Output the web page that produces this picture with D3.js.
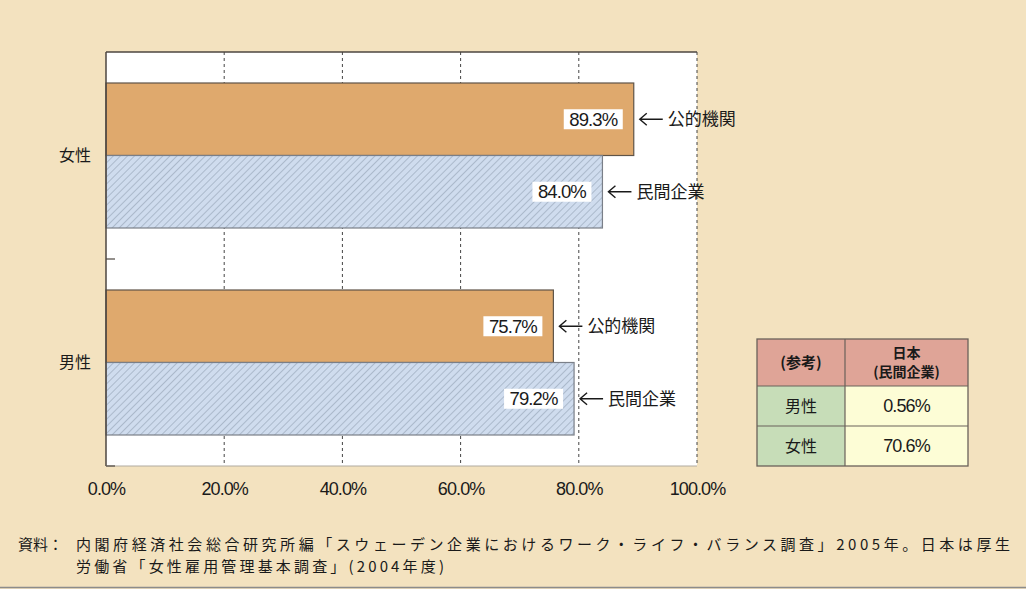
<!DOCTYPE html>
<html lang="ja">
<head>
<meta charset="utf-8">
<title>公的機関と民間企業の育児休業取得率</title>
<script src="https://d3js.org/d3.v7.min.js"></script>
<style>
  body { margin: 0; background: #f3e2bf; }
  svg { display: block; }
</style>
</head>
<body>
<svg width="1026" height="589"></svg>
<script>
// データ
var categories = ["女性", "男性"];
var series = ["公的機関", "民間企業"];
var publicValues = [89.3, 75.7];
var privateValues = [84.0, 79.2];
var xTicks = [0, 20, 40, 60, 80, 100];
var refRows = ["男性", "女性"];
var refValues = ["0.56%", "70.6%"];

var svg = d3.select("svg");
var width = +svg.attr("width");
var height = +svg.attr("height");
var marge = {top: 52, left: 106, right: 329, bottom: 123};
var innerW = width - marge.left - marge.right;
var innerH = height - marge.top - marge.bottom;

svg.append("rect").attr("width", width).attr("height", height).attr("fill", "#f3e2bf");
svg.append("line").attr("x1", 0).attr("x2", width).attr("y1", 587.5).attr("y2", 587.5)
    .attr("stroke", "#8c8c8c").attr("stroke-width", 1.5);

// 斜線パターン
var defs = svg.append("defs");
var pat = defs.append("pattern").attr("id", "hatch").attr("patternUnits", "userSpaceOnUse")
    .attr("width", 5).attr("height", 5).attr("patternTransform", "rotate(45)");
pat.append("rect").attr("width", 5).attr("height", 5).attr("fill", "#cfdcee");
pat.append("line").attr("x1", 0).attr("y1", 0).attr("x2", 0).attr("y2", 5)
    .attr("stroke", "#8d9cae").attr("stroke-width", 1.1);

var g = svg.append("g").attr("transform", "translate(" + marge.left + "," + marge.top + ")");

var xScale = d3.scaleLinear().domain([0, 100]).range([0, innerW]);
var yScale = d3.scaleBand().domain(categories).range([0, innerH]).paddingInner(0).paddingOuter(0);
var subScale = d3.scaleBand().domain(series).range([31, yScale.bandwidth() - 31]);

g.append("rect").attr("width", innerW).attr("height", innerH).attr("fill", "#ffffff");

// グリッド線
g.selectAll(".grid").data(xTicks.slice(1)).enter().append("line")
    .attr("x1", function(d){ return xScale(d); })
    .attr("x2", function(d){ return xScale(d); })
    .attr("y1", 0).attr("y2", innerH)
    .attr("stroke", "#444").attr("stroke-width", 1).attr("stroke-dasharray", "3,3");

var rows = [];
categories.forEach(function(c, i){
    rows.push({cat: c, s: series[0], v: publicValues[i]});
    rows.push({cat: c, s: series[1], v: privateValues[i]});
});

var gs = g.selectAll(".bar").data(rows).enter().append("g")
    .attr("transform", function(d){ return "translate(0," + (yScale(d.cat) + subScale(d.s)) + ")"; });

var bh = subScale.bandwidth();
gs.append("rect")
    .attr("x", 0).attr("y", 0)
    .attr("width", function(d){ return xScale(d.v); })
    .attr("height", bh)
    .attr("fill", function(d){ return d.s === series[0] ? "#dfa96d" : "url(#hatch)"; })
    .attr("stroke", function(d){ return d.s === series[0] ? "#5f5448" : "#7a7f88"; })
    .attr("stroke-width", 1.2);

// 数値ラベル
gs.append("rect")
    .attr("x", function(d){ return xScale(d.v) - 70; })
    .attr("y", bh / 2 - 10)
    .attr("width", 59).attr("height", 20)
    .attr("fill", "#ffffff");
gs.append("text")
    .attr("x", function(d){ return xScale(d.v) - 40.5; })
    .attr("y", bh / 2)
    .attr("dy", "0.36em")
    .attr("text-anchor", "middle")
    .attr("font-family", "'Liberation Sans', Arial, sans-serif")
    .attr("font-size", 18.5).attr("letter-spacing", -0.9)
    .attr("fill", "#1a1a1a")
    .text(function(d){ return d.v.toFixed(1) + "%"; });

// 矢印と系列名
gs.append("path")
    .attr("d", function(d){
        var x0 = xScale(d.v) + 6, x1 = x0 + 23, y = bh / 2;
        return "M" + x1 + "," + y + "H" + x0 + "M" + (x0 + 7) + "," + (y - 6) + "L" + x0 + "," + y + "L" + (x0 + 7) + "," + (y + 6);
    })
    .attr("fill", "none").attr("stroke", "#1a1a1a").attr("stroke-width", 1.4);
gs.append("text")
    .attr("x", function(d){ return xScale(d.v) + 34; })
    .attr("y", bh / 2)
    .attr("dy", "0.36em")
    .attr("font-family", "'Noto Sans CJK JP', sans-serif")
    .attr("font-size", 17)
    .attr("fill", "#1a1a1a")
    .text(function(d){ return d.s; });

// 枠線
g.append("line").attr("x1", 0).attr("x2", innerW).attr("y1", 0).attr("y2", 0)
    .attr("stroke", "#4d4640").attr("stroke-width", 1.5);
g.append("line").attr("x1", 0).attr("x2", 0).attr("y1", 0).attr("y2", innerH)
    .attr("stroke", "#4d4640").attr("stroke-width", 1.5);
g.append("line").attr("x1", 0).attr("x2", innerW).attr("y1", innerH).attr("y2", innerH)
    .attr("stroke", "#b0aaa0").attr("stroke-width", 1);
g.append("line").attr("x1", 0).attr("x2", 9).attr("y1", yScale.bandwidth()).attr("y2", yScale.bandwidth())
    .attr("stroke", "#4d4640").attr("stroke-width", 1.2);
g.append("line").attr("x1", 0).attr("x2", 9).attr("y1", innerH).attr("y2", innerH)
    .attr("stroke", "#4d4640").attr("stroke-width", 1.2);

// カテゴリ名
g.selectAll(".cat").data(categories).enter().append("text")
    .attr("x", -31)
    .attr("y", function(d){ return yScale(d) + subScale.range()[0] + (subScale.range()[1] - subScale.range()[0]) / 2; })
    .attr("dy", "0.36em")
    .attr("text-anchor", "middle")
    .attr("font-family", "'Noto Sans CJK JP', sans-serif")
    .attr("font-size", 16).attr("fill", "#1a1a1a")
    .text(function(d){ return d; });

// x軸
var xAxis = d3.axisBottom(xScale).tickValues(xTicks).tickSize(0).tickPadding(16)
    .tickFormat(function(d){ return d.toFixed(1) + "%"; });
var ax = g.append("g").attr("transform", "translate(0," + innerH + ")").call(xAxis);
ax.select(".domain").remove();
ax.selectAll("text")
    .attr("font-family", "'Liberation Sans', Arial, sans-serif")
    .attr("font-size", 18).attr("letter-spacing", -0.9).attr("fill", "#1a1a1a");

// 参考表
var tx = 757, ty = 339, col1 = 88, col2 = 123, hh = 47, rh = 40;
var tg = svg.append("g").attr("transform", "translate(" + tx + "," + ty + ")");
tg.append("rect").attr("width", col1 + col2).attr("height", hh).attr("fill", "#dfa497");
tg.selectAll(".lc").data(refRows).enter().append("rect")
    .attr("y", function(d, i){ return hh + i * rh; })
    .attr("width", col1).attr("height", rh).attr("fill", "#c7ddb8");
tg.selectAll(".rc").data(refValues).enter().append("rect")
    .attr("x", col1)
    .attr("y", function(d, i){ return hh + i * rh; })
    .attr("width", col2).attr("height", rh).attr("fill", "#fdfdd6");
var tb = "#6a625a";
tg.append("rect").attr("width", col1 + col2).attr("height", hh + rh * refRows.length)
    .attr("fill", "none").attr("stroke", tb).attr("stroke-width", 1.3);
tg.append("line").attr("x1", col1).attr("x2", col1).attr("y1", 0).attr("y2", hh + rh * refRows.length)
    .attr("stroke", tb).attr("stroke-width", 1.2);
[hh, hh + rh].forEach(function(y){
    tg.append("line").attr("x1", 0).attr("x2", col1 + col2).attr("y1", y).attr("y2", y)
        .attr("stroke", tb).attr("stroke-width", 1.2);
});
var cjk = "'Noto Sans CJK JP', sans-serif";
tg.append("text").attr("x", col1 / 2).attr("y", hh / 2).attr("dy", "0.36em")
    .attr("text-anchor", "middle").attr("font-family", cjk).attr("font-size", 15)
    .attr("font-weight", "bold").attr("fill", "#1a1a1a").text("(参考)");
tg.append("text").attr("x", col1 + col2 / 2).attr("y", 14).attr("dy", "0.36em")
    .attr("text-anchor", "middle").attr("font-family", cjk).attr("font-size", 14)
    .attr("font-weight", "bold").attr("fill", "#1a1a1a").text("日本");
tg.append("text").attr("x", col1 + col2 / 2).attr("y", 33).attr("dy", "0.36em")
    .attr("text-anchor", "middle").attr("font-family", cjk).attr("font-size", 14)
    .attr("font-weight", "bold").attr("fill", "#1a1a1a").text("(民間企業)");
tg.selectAll(".lt").data(refRows).enter().append("text")
    .attr("x", col1 / 2)
    .attr("y", function(d, i){ return hh + i * rh + rh / 2; })
    .attr("dy", "0.36em").attr("text-anchor", "middle")
    .attr("font-family", cjk).attr("font-size", 16).attr("fill", "#1a1a1a")
    .text(function(d){ return d; });
tg.selectAll(".rt").data(refValues).enter().append("text")
    .attr("x", col1 + col2 / 2)
    .attr("y", function(d, i){ return hh + i * rh + rh / 2; })
    .attr("dy", "0.36em").attr("text-anchor", "middle")
    .attr("font-family", "'Liberation Sans', Arial, sans-serif")
    .attr("font-size", 18).attr("letter-spacing", -0.9).attr("fill", "#1a1a1a")
    .text(function(d){ return d; });

// 資料
var note = svg.append("g").attr("font-family", cjk).attr("font-size", 15).attr("fill", "#1a1a1a");
note.append("text").attr("x", 18).attr("y", 550).text("資料：");
note.append("text").attr("x", 76).attr("y", 550)
    .attr("textLength", 934).attr("lengthAdjust", "spacing")
    .text("内閣府経済社会総合研究所編「スウェーデン企業におけるワーク・ライフ・バランス調査」2005年。日本は厚生");
note.append("text").attr("x", 76).attr("y", 572)
    .attr("textLength", 368).attr("lengthAdjust", "spacing")
    .text("労働省「女性雇用管理基本調査」(2004年度)");
</script>
</body>
</html>
